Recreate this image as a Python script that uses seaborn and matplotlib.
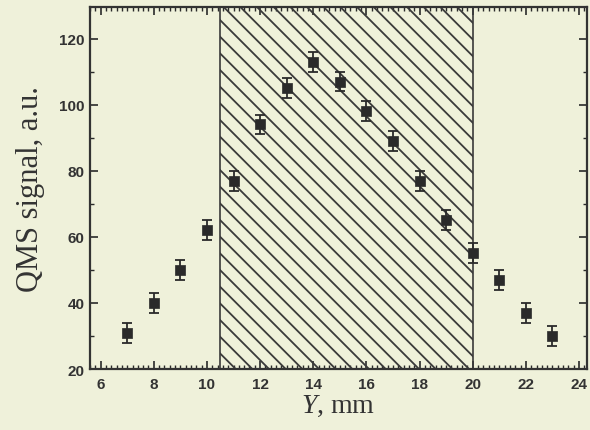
import numpy as np
import pandas as pd
import matplotlib
matplotlib.use("Agg")
import matplotlib.pyplot as plt
from matplotlib.ticker import MultipleLocator
import seaborn as sns

# data
y_pos = [7, 8, 9, 10, 11, 12, 13, 14, 15, 16, 17, 18, 19, 20, 21, 22, 23]
qms_signal = [31, 40, 50, 62, 77, 94, 105, 113, 107, 98, 89, 77, 65, 55, 47, 37, 30]
signal_err = [3, 3, 3, 3, 3, 3, 3, 3, 3, 3, 3, 3, 3, 3, 3, 3, 3]
band = [10.5, 20.0]
x_ticks = [6, 8, 10, 12, 14, 16, 18, 20, 22, 24]
y_ticks = [20, 40, 60, 80, 100, 120]

df = pd.DataFrame({"Y": y_pos, "S": qms_signal, "E": signal_err})

sns.set_theme(style="ticks")
bg = "#eff1da"
plt.rcParams["hatch.linewidth"] = 1.3
plt.rcParams["hatch.color"] = "#3a3a3a"
plt.rcParams["mathtext.fontset"] = "custom"
plt.rcParams["mathtext.it"] = "Liberation Serif:italic"
plt.rcParams["mathtext.rm"] = "Liberation Serif"

fig = plt.figure(figsize=(5.9, 4.31), dpi=100, facecolor=bg)
ax = fig.add_axes([0.1525, 0.1415, 0.8425, 0.8395])
ax.set_facecolor(bg)

ax.axvspan(band[0], band[1], facecolor="none", edgecolor="#3a3a3a",
           hatch="\\\\", linewidth=1.2, zorder=1)

ax.errorbar(df["Y"], df["S"], yerr=df["E"], fmt="none", ecolor="#2a2a2a",
            elinewidth=1.3, capsize=3.5, capthick=1.3, zorder=3)
sns.scatterplot(data=df, x="Y", y="S", marker="s", s=45, color="#2a2a2a",
                edgecolor="#2a2a2a", linewidth=0.5, ax=ax, zorder=4)

ax.set_xlim(5.6, 24.3)
ax.set_ylim(20, 129.5)
ax.set_xticks(x_ticks)
ax.set_yticks(y_ticks)
ax.xaxis.set_minor_locator(MultipleLocator(0.2))
ax.yaxis.set_minor_locator(MultipleLocator(10))
ax.tick_params(which="major", direction="in", length=6, width=1.2,
               top=True, right=True, labelright=False, labeltop=False,
               color="#2a2a2a")
ax.tick_params(which="minor", direction="in", length=3, width=1.0,
               top=True, right=True, color="#2a2a2a")
for lab in ax.get_xticklabels() + ax.get_yticklabels():
    lab.set_fontfamily("Liberation Sans")
    lab.set_fontweight("bold")
    lab.set_fontsize(11)
    lab.set_color("#333333")
ax.tick_params(axis="x", pad=6)
ax.tick_params(axis="y", pad=4)

for sp in ax.spines.values():
    sp.set_linewidth(1.6)
    sp.set_color("#333333")

ax.set_xlabel("$Y$, mm", fontfamily="Liberation Serif", fontsize=20,
              color="#333333", labelpad=1)
ax.set_ylabel("QMS signal, a.u.", fontfamily="Liberation Serif", fontsize=22,
              color="#333333", labelpad=10)

fig.savefig("out.png", dpi=100, facecolor=bg)
